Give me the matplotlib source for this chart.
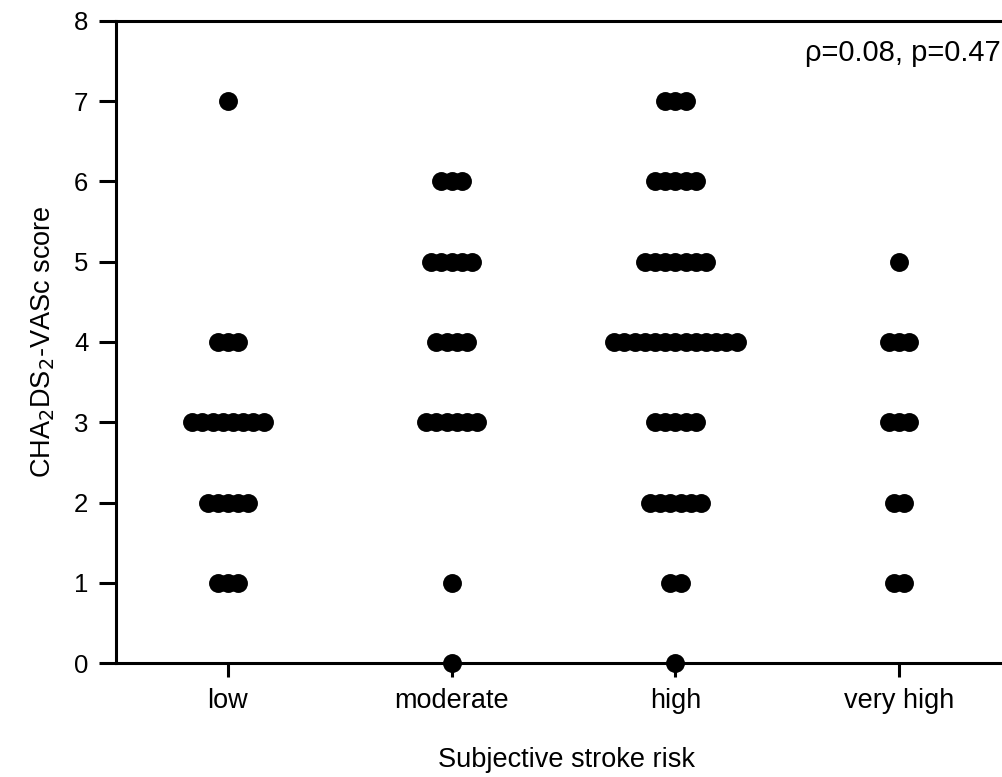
import numpy as np
import matplotlib
matplotlib.use("Agg")
import matplotlib.pyplot as plt

plt.rcParams['font.family'] = ['Liberation Sans', 'DejaVu Sans']

categories = ["low", "moderate", "high", "very high"]
scores = [0, 1, 2, 3, 4, 5, 6, 7]
# number of patients at each score (0..7) per category
counts_low = [0, 3, 5, 8, 3, 0, 0, 1]
counts_moderate = [1, 1, 0, 6, 4, 5, 3, 0]
counts_high = [1, 2, 6, 5, 13, 7, 5, 3]
counts_veryhigh = [0, 2, 2, 3, 3, 1, 0, 0]
all_counts = [counts_low, counts_moderate, counts_high, counts_veryhigh]

spacing = 0.0456  # horizontal step between dots in a row (x data units)

fig = plt.figure(figsize=(10.02, 7.77), dpi=100)
ax = fig.add_axes([0.1158, 0.1467, 0.9, 0.8263])

for ci, counts in enumerate(all_counts):
    xs, ys = [], []
    for s, n in zip(scores, counts):
        for i in range(n):
            xs.append(ci + (i - (n - 1) / 2) * spacing)
            ys.append(s)
    ax.plot(xs, ys, 'o', color='black', markersize=13.6, clip_on=False,
            markeredgewidth=0, zorder=3)

ax.set_xlim(-0.5, 3.53)
ax.set_ylim(0, 8)
ax.set_xticks(range(len(categories)))
ax.set_xticklabels(categories, fontsize=19.5)
ax.set_yticks(range(0, 9))
ax.tick_params(axis='y', labelsize=18.5, width=2.2, length=12, pad=8)
ax.tick_params(axis='x', width=2.2, length=10, pad=8)

for side in ['left', 'bottom', 'top']:
    ax.spines[side].set_linewidth(2.2)
ax.spines['right'].set_visible(False)

ax.set_ylabel(r"CHA$_2$DS$_2$-VASc score", fontsize=19.5, labelpad=12)
ax.set_xlabel("Subjective stroke risk", fontsize=19.5, labelpad=24)
# right edge of the annotation sits at the right edge of the figure
ax.text(1 / 0.9 - 0.1158 / 0.9 - 0.001, 7.6, "ρ=0.08, p=0.47",
        transform=ax.get_yaxis_transform(), ha='right', va='center', fontsize=21)

fig.savefig("out.png", dpi=100)
